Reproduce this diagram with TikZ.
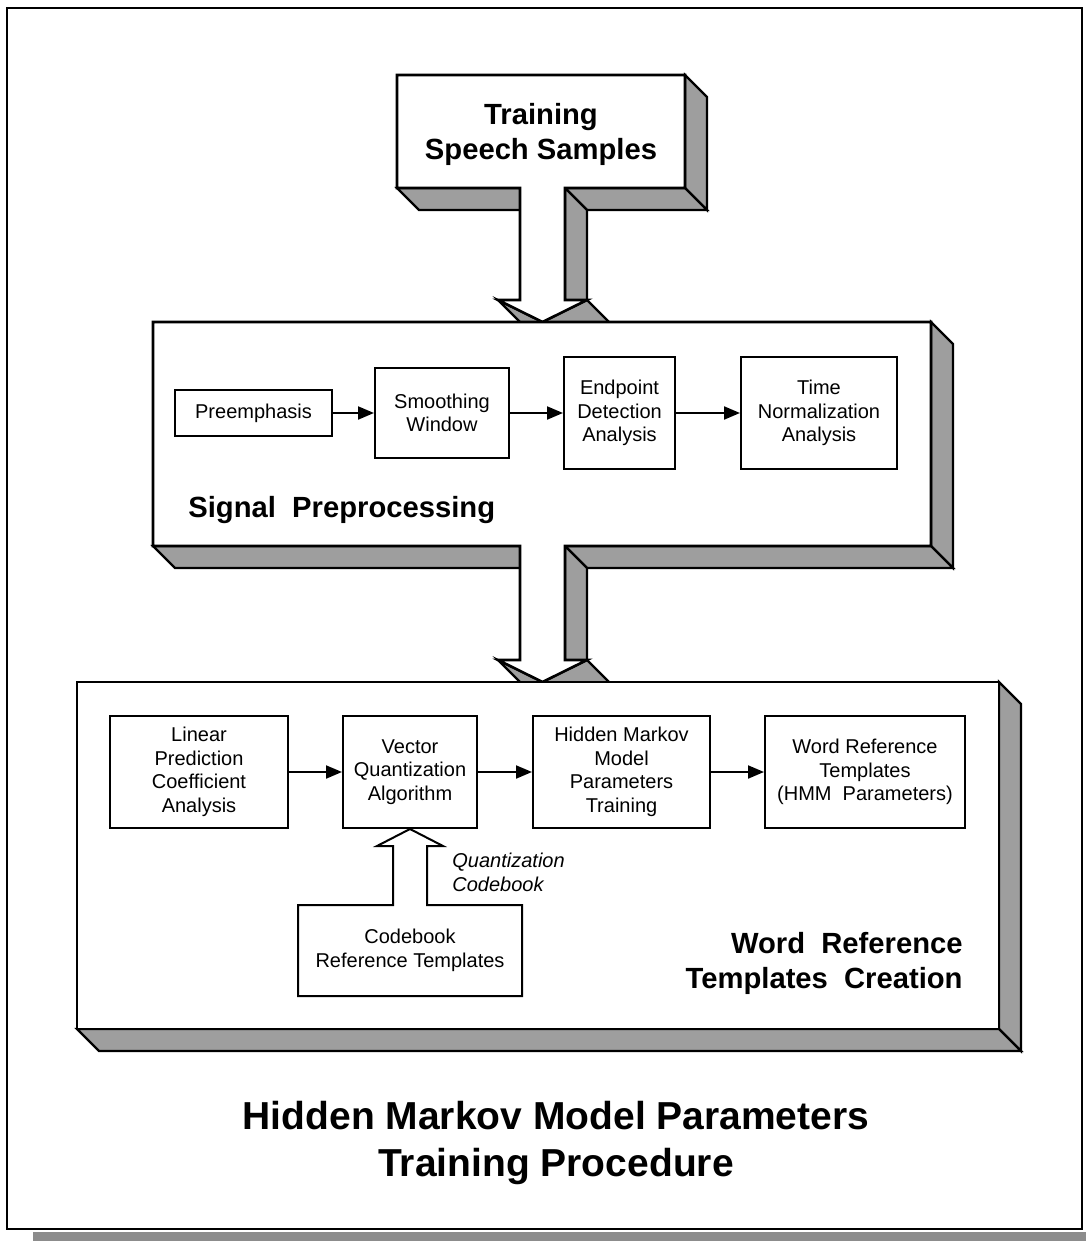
\documentclass[tikz,border=0pt]{standalone}
\usepackage{fontspec}
\setmainfont{Liberation Sans}
\usetikzlibrary{arrows.meta,calc}

\begin{document}
\begin{tikzpicture}[x=0.5pt,y=-0.5pt,
  face/.style={fill=white,draw=black,line width=1.3pt,line join=miter},
  side/.style={fill=black!38,draw=black,line width=1.1pt,line join=miter},
  stage/.style={draw=black,line width=1pt,fill=white,align=center,inner sep=0pt,
    font=\fontsize{10}{11.8}\selectfont},
  flow/.style={line width=1pt,-{Triangle[length=8pt,width=6.5pt]}},
  headline/.style={font=\fontsize{14.6}{17.5}\selectfont\bfseries,inner sep=0pt},
  feed/.style={line width=1pt,line join=miter},
]
\useasboundingbox (0,0) rectangle (1086,1241);

% page frame with its shadow strip
\fill[black!45] (33,1232) rectangle (1086,1241);
\draw[line width=0.9pt] (7,8) rectangle (1082,1229);

% ---- Training Speech Samples block (extruded, with its outlet arrow)
\filldraw[side] (685,75) -- (707,97) -- (707,210) -- (685,188) -- cycle;
\filldraw[side] (397,188) -- (520,188) -- (542,210) -- (419,210) -- cycle;
\filldraw[side] (565,188) -- (685,188) -- (707,210) -- (587,210) -- cycle;
\filldraw[side] (565,188) -- (587,210) -- (587,322) -- (565,300) -- cycle;
\filldraw[side] (498,300) -- (542.5,322) -- (564.5,344) -- (520,322) -- cycle;
\filldraw[side] (587,300) -- (609,322) -- (564.5,344) -- (542.5,322) -- cycle;
\draw[face] (397,75) -- (685,75) -- (685,188) -- (565,188) -- (565,300) -- (587,300)
  -- (542.5,322) -- (498,300) -- (520,300) -- (520,188) -- (397,188) -- cycle;
\node[headline,anchor=north,align=center] (tss) at (541,103) {Training\\Speech Samples};

% ---- Signal Preprocessing block
\filldraw[side] (931,322) -- (953,344) -- (953,568) -- (931,546) -- cycle;
\filldraw[side] (153,546) -- (520,546) -- (542,568) -- (175,568) -- cycle;
\filldraw[side] (565,546) -- (931,546) -- (953,568) -- (587,568) -- cycle;
\filldraw[side] (565,546) -- (587,568) -- (587,682) -- (565,660) -- cycle;
\filldraw[side] (498,660) -- (542.5,682) -- (564.5,704) -- (520,682) -- cycle;
\filldraw[side] (587,660) -- (609,682) -- (564.5,704) -- (542.5,682) -- cycle;
\draw[face] (153,322) -- (931,322) -- (931,546) -- (565,546) -- (565,660) -- (587,660)
  -- (542.5,682) -- (498,660) -- (520,660) -- (520,546) -- (153,546) -- cycle;

\node[stage,minimum width=78.5pt,minimum height=23pt] (pre) at (253.5,413) {Preemphasis};
\node[stage,minimum width=67pt,minimum height=45pt] (smooth) at (442,413) {Smoothing\\Window};
\node[stage,minimum width=55.5pt,minimum height=56pt] (endp) at (619.5,413) {Endpoint\\Detection\\Analysis};
\node[stage,minimum width=78pt,minimum height=56pt] (timen) at (819,413) {Time\\Normalization\\Analysis};
\draw[flow] (pre) -- (smooth);
\draw[flow] (smooth) -- (endp);
\draw[flow] (endp) -- (timen);
\node[headline,anchor=base west] (spl) at (188,517) {Signal\ \ Preprocessing};

% ---- Word Reference Templates Creation block
\filldraw[side] (999,682) -- (1021,704) -- (1021,1051) -- (999,1029) -- cycle;
\filldraw[side] (77,1029) -- (999,1029) -- (1021,1051) -- (99,1051) -- cycle;
\draw[face] (77,682) rectangle (999,1029);

\node[stage,minimum width=89pt,minimum height=56pt] (lpc) at (199,772) {Linear\\Prediction\\Coefficient\\Analysis};
\node[stage,minimum width=67pt,minimum height=56pt] (vq) at (410,772) {Vector\\Quantization\\Algorithm};
\node[stage,minimum width=88.5pt,minimum height=56pt] (hmm) at (621.5,772) {Hidden Markov\\Model\\Parameters\\Training};
\node[stage,minimum width=100pt,minimum height=56pt] (wrt) at (865,772) {Word Reference\\Templates\\(HMM\ \ Parameters)};
\draw[flow] (lpc) -- (vq);
\draw[flow] (vq) -- (hmm);
\draw[flow] (hmm) -- (wrt);

% codebook store feeding the quantizer through a hollow arrow
\node[stage,draw=none,fill=none,minimum width=111pt,minimum height=44.5pt] (cb) at (410,950.5)
  {Codebook\\Reference Templates};
\draw[feed] ($(cb.north)+(-17,0)$) -- ($(vq.south)+(-17,17)$) -- ($(vq.south)+(-33,17)$)
  -- (vq.south) -- ($(vq.south)+(33,17)$) -- ($(vq.south)+(17,17)$) -- ($(cb.north)+(17,0)$)
  -- (cb.north east) -- (cb.south east) -- (cb.south west) -- (cb.north west) -- cycle;
\node[anchor=north west,align=left,inner sep=0pt,font=\fontsize{10}{11.8}\selectfont\itshape]
  (qcb) at (452,853) {Quantization\\Codebook};

\node[headline,anchor=north east,align=right] (wrl) at (963,932) {Word\ \ Reference\\Templates\ \ Creation};

% caption
\node[font=\fontsize{19.5}{23.5}\selectfont\bfseries,anchor=north,align=center,inner sep=0pt]
  (title) at (556,1101) {Hidden Markov Model Parameters\\Training Procedure};
\end{tikzpicture}
\end{document}
